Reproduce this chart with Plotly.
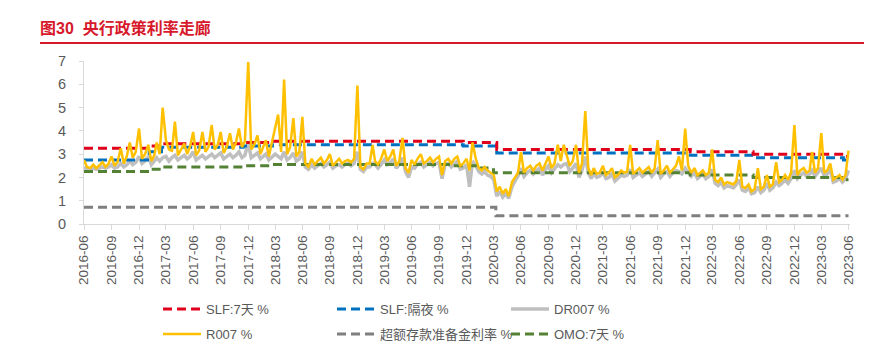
import pandas as pd
import plotly.graph_objects as go

# ---------------- data ----------------
tick_labels = ["2016-06", "2016-09", "2016-12", "2017-03", "2017-06", "2017-09", "2017-12",
               "2018-03", "2018-06", "2018-09", "2018-12", "2019-03", "2019-06", "2019-09",
               "2019-12", "2020-03", "2020-06", "2020-09", "2020-12", "2021-03", "2021-06",
               "2021-09", "2021-12", "2022-03", "2022-06", "2022-09", "2022-12", "2023-03",
               "2023-06"]

# R007 (%) : first value 2016-06-30, then per month: 10th, 20th, month-end
r007_2016 = [2.75,
             2.45, 2.40, 2.55, 2.40, 2.50, 2.65, 2.45, 2.60, 2.90,
             2.50, 2.65, 3.25, 2.60, 2.90, 3.50, 2.85, 3.10, 4.10]
r007_2017 = [2.80, 3.00, 3.40, 2.70, 2.95, 3.50, 3.00, 5.00, 3.60, 3.20, 3.15, 4.40,
             2.95, 3.20, 3.45, 3.00, 3.35, 3.95, 2.95, 3.15, 3.95, 3.10, 3.30, 4.25,
             3.20, 3.40, 3.95, 3.05, 3.30, 3.90, 3.20, 3.50, 4.10, 3.30, 3.55, 6.95]
r007_2018 = [3.20, 3.40, 3.80, 3.00, 3.30, 3.60, 2.90, 3.50, 4.25, 4.70, 3.10, 6.20,
             3.00, 3.30, 4.55, 2.90, 3.10, 4.60, 2.60, 2.45, 2.80, 2.55, 2.70, 2.85,
             2.60, 2.75, 3.00, 2.50, 2.65, 2.80, 2.60, 2.70, 2.75, 2.65, 2.80, 5.95]
r007_2019 = [2.45, 2.35, 2.60, 2.60, 3.40, 2.70, 2.55, 2.80, 3.20, 2.70, 2.90, 3.20,
             2.50, 2.70, 3.70, 2.40, 2.20, 2.75, 2.55, 2.80, 3.00, 2.60, 2.70, 2.85,
             2.65, 2.80, 2.90, 2.10, 2.70, 2.80, 2.60, 2.80, 2.90, 2.50, 2.60, 2.80]
r007_2020 = [2.30, 3.50, 2.80, 2.40, 2.30, 2.45, 2.30, 2.20, 2.10, 1.40, 1.60, 1.30,
             1.50, 1.20, 1.80, 2.00, 2.20, 3.10, 2.20, 2.40, 2.50, 2.30, 2.50, 2.60,
             2.30, 2.60, 2.90, 2.40, 2.60, 3.40, 2.70, 3.40, 2.95, 2.50, 2.70, 3.40]
r007_2021 = [2.20, 2.60, 4.85, 2.40, 2.10, 2.40, 2.15, 2.20, 2.50, 2.10, 2.20, 2.40,
             2.00, 2.10, 2.30, 2.20, 2.25, 3.40, 2.15, 2.25, 2.40, 2.20, 2.30, 2.45,
             2.20, 2.40, 3.60, 2.15, 2.30, 2.50, 2.20, 2.35, 2.50, 2.90, 2.30, 4.10]
r007_2022 = [2.50, 2.20, 2.40, 2.10, 2.20, 2.30, 2.10, 2.20, 3.20, 1.90, 1.80, 2.00,
             1.70, 1.80, 1.75, 1.70, 1.85, 2.75, 1.60, 1.55, 1.70, 1.40, 1.50, 2.40,
             1.50, 1.60, 2.10, 1.60, 1.70, 2.65, 1.80, 1.90, 2.10, 1.90, 2.20, 4.25]
r007_2023 = [2.10, 2.30, 2.40, 2.20, 2.30, 3.10, 2.20, 2.40, 3.90,
             2.20, 2.30, 2.60, 1.90, 2.00, 2.10, 1.90, 2.10, 3.15]

# DR007 (%) : same dates
dr007_2016 = [2.45,
              2.35, 2.35, 2.40, 2.35, 2.40, 2.45, 2.40, 2.45, 2.55,
              2.40, 2.45, 2.60, 2.45, 2.55, 2.70, 2.55, 2.65, 2.90]
dr007_2017 = [2.60, 2.70, 2.90, 2.55, 2.70, 2.85, 2.70, 2.85, 2.90, 2.70, 2.85, 2.95,
              2.75, 2.85, 2.95, 2.80, 2.90, 3.10, 2.75, 2.85, 2.95, 2.80, 2.90, 3.00,
              2.85, 2.95, 3.05, 2.80, 2.90, 3.00, 2.85, 2.95, 3.10, 2.85, 2.95, 3.50]
dr007_2018 = [2.85, 2.95, 3.05, 2.80, 2.90, 3.00, 2.75, 2.85, 3.00, 2.90, 2.80, 3.10,
              2.75, 2.85, 3.05, 2.70, 2.80, 3.10, 2.45, 2.35, 2.55, 2.40, 2.50, 2.60,
              2.45, 2.55, 2.65, 2.40, 2.50, 2.55, 2.45, 2.55, 2.60, 2.50, 2.60, 3.10]
dr007_2019 = [2.35, 2.25, 2.45, 2.45, 2.60, 2.55, 2.40, 2.55, 2.75, 2.55, 2.65, 2.80,
              2.40, 2.55, 2.85, 2.25, 2.00, 2.45, 2.40, 2.55, 2.65, 2.45, 2.55, 2.65,
              2.50, 2.60, 2.65, 1.95, 2.55, 2.60, 2.45, 2.60, 2.70, 2.35, 2.40, 2.55]
dr007_2020 = [1.60, 2.70, 2.50, 2.25, 2.15, 2.25, 2.10, 2.05, 1.90, 1.20, 1.40, 1.15,
              1.30, 1.10, 1.60, 1.85, 2.05, 2.40, 2.05, 2.20, 2.30, 2.15, 2.30, 2.40,
              2.10, 2.35, 2.50, 2.20, 2.35, 2.55, 2.45, 2.55, 2.60, 2.25, 2.40, 2.60]
dr007_2021 = [2.00, 2.30, 2.90, 2.20, 1.95, 2.20, 2.00, 2.05, 2.20, 1.95, 2.00, 2.15,
              1.85, 1.95, 2.10, 2.05, 2.10, 2.35, 2.00, 2.10, 2.20, 2.05, 2.15, 2.25,
              2.05, 2.20, 2.35, 2.00, 2.15, 2.25, 2.05, 2.20, 2.30, 2.25, 2.15, 2.40]
dr007_2022 = [2.25, 2.05, 2.20, 1.95, 2.05, 2.15, 1.95, 2.05, 2.35, 1.75, 1.65, 1.80,
              1.55, 1.65, 1.60, 1.55, 1.70, 1.90, 1.45, 1.40, 1.55, 1.30, 1.35, 1.60,
              1.35, 1.45, 1.75, 1.45, 1.55, 1.80, 1.65, 1.75, 1.90, 1.75, 1.95, 2.30]
dr007_2023 = [1.95, 2.10, 2.20, 2.05, 2.15, 2.30, 2.05, 2.20, 2.40,
              2.05, 2.15, 2.35, 1.80, 1.85, 1.95, 1.80, 1.95, 2.30]

# Policy rates: change dates and levels (step series)
slf7_dates = ["2016-06-30", "2017-02-03", "2017-03-16", "2017-12-14", "2018-03-22",
              "2019-12-20", "2020-04-10", "2022-01-17", "2022-08-15", "2023-06-13", "2023-06-30"]
slf7_vals = [3.25, 3.35, 3.45, 3.50, 3.55, 3.50, 3.20, 3.10, 3.00, 2.90, 2.90]

slfon_dates = ["2016-06-30", "2017-02-03", "2017-03-16", "2017-12-14", "2018-03-22",
               "2019-12-20", "2020-04-10", "2022-01-17", "2022-08-15", "2023-06-13", "2023-06-30"]
slfon_vals = [2.75, 3.10, 3.30, 3.35, 3.40, 3.35, 3.05, 2.95, 2.85, 2.75, 2.75]

omo_dates = ["2016-06-30", "2017-02-03", "2017-03-16", "2017-12-14", "2018-03-22",
             "2019-11-18", "2020-02-03", "2020-03-30", "2022-01-17", "2022-08-15",
             "2023-06-13", "2023-06-30"]
omo_vals = [2.25, 2.35, 2.45, 2.50, 2.55, 2.50, 2.40, 2.20, 2.10, 2.00, 1.90, 1.90]

excess_dates = ["2016-06-30", "2020-04-07", "2023-06-30"]
excess_vals = [0.72, 0.35, 0.35]

# ---------------- build ----------------
daily_dates = [pd.Timestamp("2016-06-30")]
for p in pd.period_range("2016-07", "2023-06", freq="M"):
    daily_dates += [pd.Timestamp(p.year, p.month, 10), pd.Timestamp(p.year, p.month, 20),
                    p.end_time.normalize()]

r007 = r007_2016 + r007_2017 + r007_2018 + r007_2019 + r007_2020 + r007_2021 + r007_2022 + r007_2023
dr007 = dr007_2016 + dr007_2017 + dr007_2018 + dr007_2019 + dr007_2020 + dr007_2021 + dr007_2022 + dr007_2023

tick_vals = [pd.Period(t, freq="M").end_time.normalize() for t in tick_labels]

FONT = "Liberation Sans, Arial, Noto Sans CJK SC, sans-serif"
GREY_TXT = "#595959"
AXIS = "#D9D9D9"
RED = "#D7192B"

W, H = 884, 385          # taller canvas so the legend is not clamped; window shows top 355 px
PL, PR, PT, PB = 84, 850, 61, 224   # plot-area pixel box
PW, PH = PR - PL, PB - PT

fig = go.Figure()

def step(name, x, y, color, dash, rank, legend):
    fig.add_trace(go.Scatter(x=x, y=y, name=name, mode="lines", line_shape="hv",
                             line=dict(color=color, width=3, dash=dash),
                             legend=legend, legendrank=rank))

fig.add_trace(go.Scatter(x=daily_dates, y=dr007, name="DR007 %", mode="lines",
                         line=dict(color="#BFBFBF", width=3.5), legend="legend", legendrank=3))
step("超额存款准备金利率 %", excess_dates, excess_vals, "#7F7F7F", "9px,5px", 2, "legend2")
step("OMO:7天 %", omo_dates, omo_vals, "#548235", "9px,5px", 3, "legend2")
step("SLF:隔夜 %", slfon_dates, slfon_vals, "#0070C0", "9px,5px", 2, "legend")
step("SLF:7天 %", slf7_dates, slf7_vals, "#E0001B", "9px,5px", 1, "legend")
fig.add_trace(go.Scatter(x=daily_dates, y=r007, name="R007 %", mode="lines",
                         line=dict(color="#FFC000", width=2.5), legend="legend2", legendrank=1))

leg_common = dict(orientation="h", entrywidth=121, entrywidthmode="pixels",
                  font=dict(family=FONT, size=13, color=GREY_TXT),
                  xanchor="left", yanchor="middle", bgcolor="rgba(0,0,0,0)",
                  itemwidth=38, traceorder="normal")

fig.update_layout(
    width=W, height=H,
    margin=dict(l=PL, r=W - PR, t=PT, b=H - PB),
    paper_bgcolor="white", plot_bgcolor="white",
    font=dict(family=FONT, color=GREY_TXT),
    showlegend=True,
    title=dict(text="<b>图30  央行政策利率走廊</b>", font=dict(family=FONT, size=16, color=RED),
               x=40 / W, xref="container", xanchor="left",
               y=1 - 28 / H, yref="container", yanchor="middle"),
    legend=dict(x=(158 - PL) / PW, y=-(309 - PB) / PH, **leg_common),
    legend2=dict(x=(158 - PL) / PW, y=-(334 - PB) / PH, **leg_common),
    shapes=[dict(type="line", xref="paper", yref="paper",
                 x0=(40 - PL) / PW, x1=(864 - PL) / PW,
                 y0=(PB - 43) / PH, y1=(PB - 43) / PH,
                 line=dict(color=RED, width=2))],
    xaxis=dict(type="date", range=["2016-06-30", "2023-07-05"],
               tickmode="array", tickvals=tick_vals, ticktext=tick_labels,
               tickangle=-90, tickfont=dict(family=FONT, size=13.5, color=GREY_TXT),
               showline=True, linecolor=AXIS, linewidth=1,
               ticks="outside", ticklen=5, tickcolor=AXIS,
               showgrid=False, zeroline=False),
    yaxis=dict(range=[0, 7], tickmode="linear", tick0=0, dtick=1,
               tickfont=dict(family=FONT, size=14.5, color=GREY_TXT),
               showline=True, linecolor=AXIS, linewidth=1,
               ticks="outside", ticklen=4, tickcolor=AXIS, ticklabelstandoff=10,
               showgrid=False, zeroline=False),
)

fig.write_html("out.html", config={"displayModeBar": False},
               post_script="document.body.style.margin='0px';document.body.style.overflow='hidden';")
